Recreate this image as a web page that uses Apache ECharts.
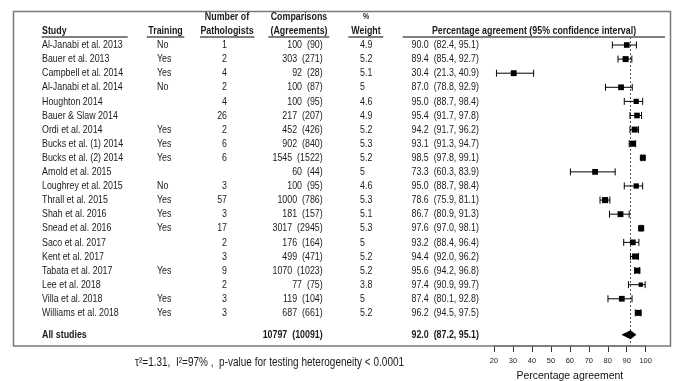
<!DOCTYPE html>
<html><head><meta charset="utf-8">
<script src="https://cdn.jsdelivr.net/npm/echarts@6/dist/echarts.min.js"></script>
<style>html,body{margin:0;padding:0;background:#fff}#c{width:677px;height:381px}</style>
</head><body><div id="c"></div>
<script>
const studies = ["Al-Janabi et al. 2013","Bauer et al. 2013","Campbell et al. 2014","Al-Janabi et al. 2014","Houghton 2014","Bauer & Slaw 2014","Ordi et al. 2014","Bucks et al. (1) 2014","Bucks et al. (2) 2014","Arnold et al. 2015","Loughrey et al. 2015","Thrall et al. 2015","Shah et al. 2016","Snead et al. 2016","Saco et al. 2017","Kent et al. 2017","Tabata et al. 2017","Lee et al. 2018","Villa et al. 2018","Williams et al. 2018"];
const training = ["No","Yes","Yes","No","","","Yes","Yes","Yes","","No","Yes","Yes","Yes","","","Yes","","Yes","Yes"];
const pathologists = [1,2,4,2,4,26,2,6,6,null,3,57,3,17,2,3,9,2,3,3];
const comparisons = [100,303,92,100,100,217,452,902,1545,60,100,1000,181,3017,176,499,1070,77,119,687];
const agreements = [90,271,28,87,95,207,426,840,1522,44,95,786,157,2945,164,471,1023,75,104,661];
const weights = [4.9,5.2,5.1,5,4.6,4.9,5.2,5.3,5.2,5,4.6,5.3,5.1,5.3,5,5.2,5.2,3.8,5,5.2];
const estimate = [90.0,89.4,30.4,87.0,95.0,95.4,94.2,93.1,98.5,73.3,95.0,78.6,86.7,97.6,93.2,94.4,95.6,97.4,87.4,96.2];
const lower = [82.4,85.4,21.3,78.8,88.7,91.7,91.7,91.3,97.8,60.3,88.7,75.9,80.9,97.0,88.4,92.0,94.2,90.9,80.1,94.5];
const upper = [95.1,92.7,40.9,92.9,98.4,97.8,96.2,94.7,99.1,83.9,98.4,81.1,91.3,98.1,96.4,96.2,96.8,99.7,92.8,97.5];
const pooledLabel = "All studies";
const pooledComparisons = 10797;
const pooledAgreements = 10091;
const pooledEstimate = 92.0, pooledLower = 87.2, pooledUpper = 95.1;
const xTicks = {min: 20, max: 100, interval: 10};
const axisTitle = "Percentage agreement";
const headerTitle = "Percentage agreement (95% confidence interval)";
const footnote = "\u03c4\u00b2=1.31,  I\u00b2=97% ,  p-value for testing heterogeneity < 0.0001";

const FONT = '"Liberation Sans", Arial, sans-serif';
const FS = 11.5, SX = 0.77, TXT = '#1a1a1a';
const POOLED_ROW = 20.55;

function T(x, y, text, align, bold, fs) {
  return {type:'text', x:x, y:y, scaleX:SX, silent:true,
    style:{text:String(text), x:0, y:0, align:align, verticalAlign:'middle', textAlign:align, textVerticalAlign:'middle',
      font:(bold?'bold ':'')+(fs||FS)+'px '+FONT, fill:TXT}};
}

const chart = echarts.init(document.getElementById('c'), null, {renderer:'canvas'});

const forestData = studies.map((s,i)=>[estimate[i], i, lower[i], upper[i], weights[i]]);
const textData = studies.map((s,i)=>[xTicks.min, i]);

const col = {study:42, train:157, path:227, comp:322.7, weight:360, est:411.5};

const option = {
  animation:false,
  textStyle:{fontFamily:FONT},
  grid:{left:494, right:31.3, top:37, bottom:35, containLabel:false, outerBoundsMode:'none'},
  xAxis:{type:'value', position:'bottom', min:xTicks.min, max:xTicks.max, interval:xTicks.interval,
    axisLine:{show:true, onZero:false, lineStyle:{color:'#7a7a7a', width:1.5}}, splitLine:{show:false},
    axisTick:{show:true, length:6, lineStyle:{color:'#333', width:1}},
    axisLabel:{fontSize:7.5, color:'#222', margin:11, fontFamily:FONT},
    name:axisTitle, nameLocation:'middle', nameGap:25,
    nameTextStyle:{fontSize:10.5, color:'#111', fontFamily:FONT}},
  yAxis:{type:'value', min:-0.567, max:21.35, inverse:true, show:false},
  series:[
    {type:'custom', clip:false, data:forestData, z:5,
     renderItem:function(params, api){
       const est=api.value(0), row=api.value(1), lo=api.value(2), hi=api.value(3), w=api.value(4);
       const pe=api.coord([est,row]), pl=api.coord([lo,row]), ph=api.coord([hi,row]);
       const s=w*1.15, cap=3.5;
       const st={stroke:'#000', lineWidth:1};
       return {type:'group', children:[
         {type:'line', shape:{x1:pl[0],y1:pl[1],x2:ph[0],y2:ph[1]}, style:st},
         {type:'line', shape:{x1:pl[0],y1:pl[1]-cap,x2:pl[0],y2:pl[1]+cap}, style:st},
         {type:'line', shape:{x1:ph[0],y1:ph[1]-cap,x2:ph[0],y2:ph[1]+cap}, style:st},
         {type:'rect', shape:{x:pe[0]-s/2,y:pe[1]-s/2,width:s,height:s}, style:{fill:'#000'}}
       ]};
     },
     markLine:{silent:true, symbol:'none', label:{show:false},
       lineStyle:{type:[2,2], color:'#555', width:1}, data:[{xAxis:pooledEstimate}]}
    },
    {type:'custom', clip:false, data:[[pooledEstimate, POOLED_ROW, pooledLower, pooledUpper]], z:5,
     renderItem:function(params, api){
       const e=api.coord([api.value(0),api.value(1)]), l=api.coord([api.value(2),api.value(1)]), h=api.coord([api.value(3),api.value(1)]);
       const hh=4.5;
       return {type:'polygon', shape:{points:[[l[0],l[1]],[e[0],e[1]-hh],[h[0],h[1]],[e[0],e[1]+hh]]}, style:{fill:'#000'}};
     }
    },
    {type:'custom', clip:false, data:textData, z:4, silent:true,
     renderItem:function(params, api){
       const i=params.dataIndex;
       const y=api.coord([api.value(0), api.value(1)])[1];
       const ch=[T(col.study,y,studies[i],'left')];
       if (training[i]) ch.push(T(col.train,y,training[i],'left'));
       if (pathologists[i]!=null) ch.push(T(col.path,y,pathologists[i],'right'));
       ch.push(T(col.comp,y,comparisons[i]+'  ('+agreements[i]+')','right'));
       ch.push(T(col.weight,y,weights[i],'left'));
       ch.push(T(col.est,y,estimate[i].toFixed(1)+'  ('+lower[i].toFixed(1)+', '+upper[i].toFixed(1)+')','left'));
       return {type:'group', children:ch};
     }
    },
    {type:'custom', clip:false, data:[[xTicks.min, POOLED_ROW]], z:4, silent:true,
     renderItem:function(params, api){
       const y=api.coord([api.value(0), api.value(1)])[1];
       return {type:'group', children:[
         T(col.study,y,pooledLabel,'left',true),
         T(col.comp,y,pooledComparisons+'  ('+pooledAgreements+')','right',true),
         T(col.est,y,pooledEstimate.toFixed(1)+'  ('+pooledLower.toFixed(1)+', '+pooledUpper.toFixed(1)+')','left',true)
       ]};
     }
    }
  ],
  graphic:[
    {type:'rect', shape:{x:13.5,y:11.5,width:657,height:334.5}, style:{fill:'none', stroke:'#7a7a7a', lineWidth:1.5}, silent:true, z:1},
    ...[[41.7,127.7],[146.7,184.3],[200,254.3],[268.3,329.3],[348.3,383.3],[402.7,665]].map(a=>({
      type:'line', shape:{x1:a[0],y1:37,x2:a[1],y2:37}, style:{stroke:'#555', lineWidth:1.5}, silent:true})),
    T(col.study,31,'Study','left',true),
    T(165.5,31,'Training','center',true),
    T(227,17,'Number of','center',true),
    T(227,31,'Pathologists','center',true),
    T(299,17,'Comparisons','center',true),
    T(299,31,'(Agreements)','center',true),
    T(366,17,'%','center',true,9),
    T(366,31,'Weight','center',true),
    T(534,31,headerTitle,'center',true),
    T(135,362,footnote,'left',false,13)
  ]
};
chart.setOption(option);
</script>
</body></html>
